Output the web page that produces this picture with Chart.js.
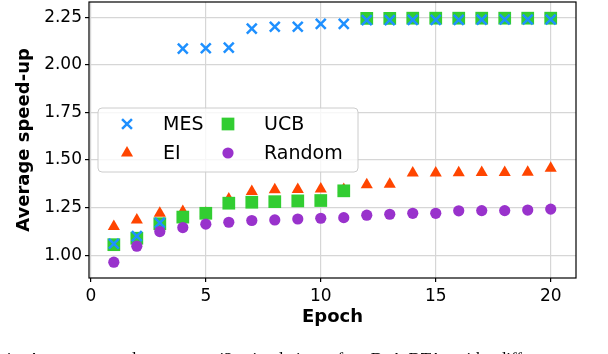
<!DOCTYPE html>
<html>
<head>
<meta charset="utf-8">
<script src="https://cdn.jsdelivr.net/npm/chart.js@4/dist/chart.umd.min.js"></script>
<style>
  html, body { margin: 0; padding: 0; background: #fff; }
  #wrap { position: relative; width: 608px; height: 354px; overflow: hidden; }
  #caption {
    position: absolute; left: 3px; top: 350px; white-space: nowrap;
    font-family: "Liberation Serif", serif; font-size: 17px; line-height: 1;
    word-spacing: 9px; color: #000;
  }
</style>
</head>
<body>
<div id="wrap">
  <canvas id="chart" width="608" height="354"></canvas>
  <div id="caption">4.  Average speed-up over 42 simulations for DeA-DTA with different</div>
</div>
<script>
// Data
const epochs = [1, 2, 3, 4, 5, 6, 7, 8, 9, 10, 11, 12, 13, 14, 15, 16, 17, 18, 19, 20];
const mesValues = [1.06, 1.10, 1.17, 2.085, 2.087, 2.09, 2.19, 2.20, 2.20, 2.215, 2.215, 2.235, 2.235, 2.236, 2.236, 2.236, 2.237, 2.238, 2.238, 2.238];
const eiValues = [1.15, 1.185, 1.22, 1.23, 1.22, 1.295, 1.334, 1.343, 1.345, 1.347, 1.345, 1.37, 1.373, 1.432, 1.432, 1.433, 1.434, 1.434, 1.436, 1.457];
const ucbValues = [1.055, 1.089, 1.165, 1.20, 1.22, 1.273, 1.278, 1.281, 1.285, 1.287, 1.338, 2.244, 2.244, 2.245, 2.245, 2.245, 2.245, 2.245, 2.245, 2.245];
const randomValues = [0.963, 1.047, 1.124, 1.145, 1.163, 1.173, 1.182, 1.185, 1.19, 1.194, 1.197, 1.21, 1.215, 1.22, 1.22, 1.233, 1.234, 1.234, 1.237, 1.242];
const xTicks = [0, 5, 10, 15, 20];
const yTicks = [1.00, 1.25, 1.50, 1.75, 2.00, 2.25];

const font = 'DejaVu Sans';
const toPoints = vals => vals.map((v, i) => ({ x: epochs[i], y: v }));

// legend drawn matplotlib style: two columns inside the axes
const legendPlugin = {
  id: 'boxLegend',
  afterDatasetsDraw(chart) {
    const ctx = chart.ctx;
    const box = { x: 98, y: 108, w: 260, h: 64 };
    ctx.save();
    ctx.beginPath();
    ctx.roundRect(box.x, box.y, box.w, box.h, 4);
    ctx.fillStyle = 'rgba(255,255,255,0.8)';
    ctx.fill();
    ctx.strokeStyle = '#cccccc';
    ctx.lineWidth = 1;
    ctx.stroke();
    const slots = [[127, 124], [127, 153], [228, 124], [228, 153]];
    ctx.font = '19px "' + font + '"';
    ctx.textBaseline = 'middle';
    chart.data.datasets.forEach((ds, k) => {
      const [mx, my] = slots[k];
      ctx.fillStyle = ds.backgroundColor;
      ctx.strokeStyle = ds.borderColor;
      ctx.lineWidth = ds.borderWidth;
      Chart.helpers.drawPoint(ctx, {
        pointStyle: ds.pointStyle, radius: ds.pointRadius, rotation: 0, borderWidth: ds.borderWidth
      }, mx, my);
      ctx.fillStyle = '#000';
      ctx.fillText(ds.label, mx + 36, my + 1);
    });
    ctx.restore();
  },
  afterDraw(chart) {
    const { ctx, chartArea: a } = chart;
    ctx.save();
    ctx.strokeStyle = '#000';
    ctx.lineWidth = 1.2;
    ctx.strokeRect(a.left, a.top, a.right - a.left, a.bottom - a.top);
    ctx.restore();
  }
};

new Chart(document.getElementById('chart'), {
  type: 'scatter',
  data: {
    datasets: [
      { label: 'MES', data: toPoints(mesValues), pointStyle: 'crossRot', pointRadius: 7,
        borderColor: '#1E90FF', backgroundColor: '#1E90FF', borderWidth: 2.5, order: 2 },
      { label: 'EI', data: toPoints(eiValues), pointStyle: 'triangle', pointRadius: 7,
        borderColor: '#FF4500', backgroundColor: '#FF4500', borderWidth: 0, order: 4 },
      { label: 'UCB', data: toPoints(ucbValues), pointStyle: 'rect', pointRadius: 9,
        borderColor: '#32CD32', backgroundColor: '#32CD32', borderWidth: 0, order: 3 },
      { label: 'Random', data: toPoints(randomValues), pointStyle: 'circle', pointRadius: 5.6,
        borderColor: '#9932CC', backgroundColor: '#9932CC', borderWidth: 0, order: 1 }
    ]
  },
  options: {
    responsive: false,
    animation: false,
    events: [],
    layout: { autoPadding: false, padding: { top: 2, right: 32, left: 0, bottom: 0 } },
    plugins: { legend: { display: false }, tooltip: { enabled: false } },
    scales: {
      x: {
        type: 'linear', min: -0.08, max: 21.1,
        afterBuildTicks: s => { s.ticks = xTicks.map(v => ({ value: v })); },
        afterFit: s => { s.height = 76; s.paddingLeft = 0; s.paddingRight = 0; },
        grid: { color: '#d6d6d6', lineWidth: 1.2, tickColor: '#000', tickLength: 4 },
        border: { display: false },
        ticks: { color: '#000', font: { family: font, size: 17 }, padding: 4, maxRotation: 0 },
        title: { display: true, text: 'Epoch', color: '#000',
          font: { family: font, size: 18, weight: 'bold' }, padding: { top: 0, bottom: 26 } }
      },
      y: {
        type: 'linear', min: 0.88, max: 2.33,
        afterBuildTicks: s => { s.ticks = yTicks.map(v => ({ value: v })); },
        afterFit: s => { s.width = 89; s.paddingTop = 0; s.paddingBottom = 0; },
        grid: { color: '#d6d6d6', lineWidth: 1.2, tickColor: '#000', tickLength: 4 },
        border: { display: false },
        ticks: { color: '#000', font: { family: font, size: 17 }, padding: 3,
          callback: v => v.toFixed(2) },
        title: { display: true, text: 'Average speed-up', color: '#000',
          font: { family: font, size: 18, weight: 'bold' }, padding: { top: 14, bottom: 0 } }
      }
    }
  },
  plugins: [legendPlugin]
});
</script>
</body>
</html>
